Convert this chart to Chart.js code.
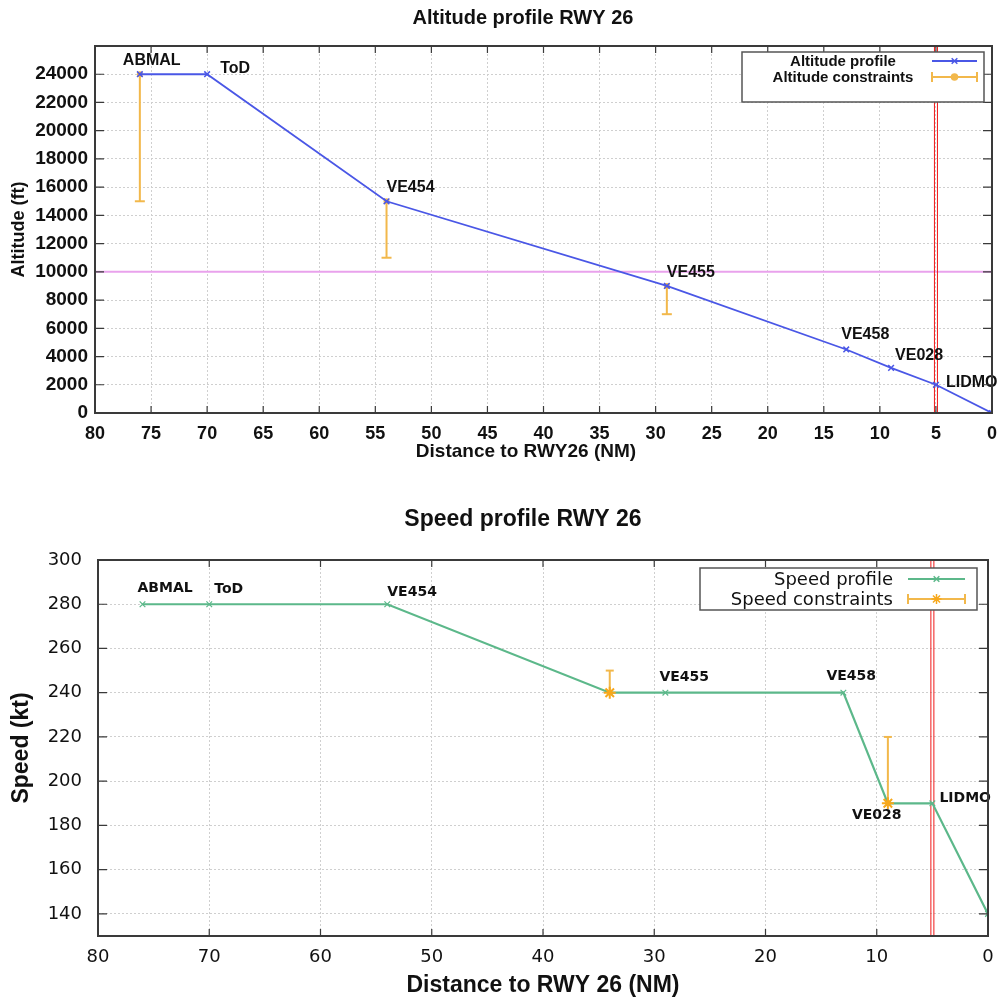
<!DOCTYPE html>
<html>
<head>
<meta charset="utf-8">
<script src="https://cdn.jsdelivr.net/npm/chart.js@4.4.1/dist/chart.umd.min.js"></script>
<style>
    body { margin: 0; background: #fff; }
    #top { position: absolute; left: 0; top: 0; width: 999px; height: 470px; }
    #bottom { position: absolute; left: 0; top: 490px; width: 999px; height: 508px; }
</style>
</head>
<body>
<div id="top"><canvas id="chart_alt"></canvas></div>
<div id="bottom"><canvas id="chart_spd"></canvas></div>
<script>
// altitude profile (distance to runway in NM, altitude in ft)
const altDist = [76, 70, 54, 29, 13, 9, 5, 0];
const altValues = [24000, 24000, 15000, 9000, 4500, 3200, 2000, 0];
const altNames = ['ABMAL', 'ToD', 'VE454', 'VE455', 'VE458', 'VE028', 'LIDMO', ''];
const altConsDist = [76, 54, 29];
const altConsLow = [15000, 11000, 7000];
const altConsHigh = [24000, 15000, 9000];
const transitionAlt = 10000;

// speed profile (kt)
const spdDist = [76, 70, 54, 34, 29, 13, 9, 5, 0];
const spdValues = [280, 280, 280, 240, 240, 240, 190, 190, 140];
const spdNames = ['ABMAL', 'ToD', 'VE454', '', 'VE455', 'VE458', 'VE028', 'LIDMO', ''];
const spdConsDist = [34, 9];
const spdConsLow = [240, 190];
const spdConsHigh = [250, 220];

const runwayMark = 5;

const blue = '#4a57e6';
const green = '#5cb88a';
const orange = '#f2b84b';
const orangeStar = '#f7a81b';

function toPoints(xs, ys) {
    return xs.map((x, i) => ({ x: x, y: ys[i] }));
}

// one vertical bar per constraint, separated by a null so the line breaks
function errorBars(xs, lo, hi) {
    const pts = [];
    for (let i = 0; i < xs.length; i++) {
        pts.push({ x: xs[i], y: lo[i] }, { x: xs[i], y: hi[i] }, { x: xs[i], y: null });
    }
    return pts;
}

const gnuplotFrame = {
    id: 'gnuplotFrame',
    beforeDatasetsDraw(chart, args, opts) {
        const { ctx, chartArea: a, scales: { x, y } } = chart;
        ctx.save();
        if (opts.hLine !== undefined) {
            const py = y.getPixelForValue(opts.hLine);
            ctx.strokeStyle = '#e9a2ec';
            ctx.lineWidth = 2;
            ctx.beginPath();
            ctx.moveTo(a.left, py);
            ctx.lineTo(a.right, py);
            ctx.stroke();
        }
        if (opts.vLine !== undefined) {
            const px = x.getPixelForValue(opts.vLine);
            ctx.strokeStyle = '#f01818';
            ctx.lineWidth = 1;
            for (const d of [-1.5, 1.5]) {
                ctx.beginPath();
                ctx.moveTo(px + d, a.bottom);
                ctx.lineTo(px + d, a.top);
                ctx.stroke();
            }
        }
        ctx.restore();
    },
    afterDatasetsDraw(chart, args, opts) {
        const { ctx, chartArea: a, scales: { x, y } } = chart;
        ctx.save();

        // titles placed like the gnuplot original (not centred on the page)
        ctx.fillStyle = '#111';
        ctx.textAlign = 'center';
        ctx.textBaseline = 'middle';
        for (const t of opts.texts) {
            ctx.font = t.font;
            ctx.fillText(t.text, t.x, t.y);
        }

        // waypoint names
        const meta = chart.getDatasetMeta(opts.labelDataset);
        ctx.font = opts.labelFont;
        ctx.textAlign = 'left';
        opts.labels.forEach((txt, i) => {
            if (!txt) return;
            const pt = meta.data[i];
            const off = opts.labelOffsets[i];
            ctx.fillText(txt, pt.x + off[0], pt.y + off[1]);
        });

        // frame with inward ticks on all sides
        ctx.strokeStyle = '#3a3a3a';
        ctx.lineWidth = 2;
        ctx.strokeRect(a.left, a.top, a.right - a.left, a.bottom - a.top);
        ctx.lineWidth = 1.2;
        ctx.beginPath();
        for (const t of x.ticks) {
            const px = x.getPixelForValue(t.value);
            ctx.moveTo(px, a.bottom); ctx.lineTo(px, a.bottom - 7);
            ctx.moveTo(px, a.top); ctx.lineTo(px, a.top + 7);
        }
        for (const t of y.ticks) {
            const py = y.getPixelForValue(t.value);
            ctx.moveTo(a.left, py); ctx.lineTo(a.left + 9, py);
            ctx.moveTo(a.right, py); ctx.lineTo(a.right - 9, py);
        }
        ctx.stroke();

        // legend box
        const lg = opts.legend;
        const bx = a.right - lg.inset[0] - lg.width;
        const by = a.top + lg.inset[1];
        ctx.fillStyle = '#fff';
        ctx.fillRect(bx, by, lg.width, lg.height);
        ctx.strokeStyle = '#555';
        ctx.lineWidth = 1.5;
        ctx.strokeRect(bx, by, lg.width, lg.height);
        ctx.font = lg.font;
        ctx.textBaseline = 'middle';
        lg.rows.forEach((row, i) => {
            const ry = by + lg.rowY[i];
            ctx.fillStyle = '#111';
            ctx.textAlign = lg.textAlign;
            ctx.fillText(row.text, bx + lg.textX, ry + 1);
            const x0 = bx + lg.sample[0], x1 = bx + lg.sample[1];
            ctx.strokeStyle = row.color;
            ctx.lineWidth = 2;
            ctx.beginPath();
            ctx.moveTo(x0, ry); ctx.lineTo(x1, ry);
            if (row.bars) {
                ctx.moveTo(x0, ry - 5); ctx.lineTo(x0, ry + 5);
                ctx.moveTo(x1, ry - 5); ctx.lineTo(x1, ry + 5);
            }
            ctx.stroke();
            ctx.strokeStyle = row.markerColor || row.color;
            ctx.fillStyle = row.markerColor || row.color;
            ctx.lineWidth = 1.5;
            Chart.helpers.drawPoint(ctx, { pointStyle: row.marker, radius: row.radius, borderWidth: 1.5, rotation: 0 }, (x0 + x1) / 2, ry);
        });
        ctx.restore();
    }
};

function dropTick(value) {
    return scale => { scale.ticks = scale.ticks.filter(t => t.value !== value); };
}

// keep the plot box edges where they are, no extra room for the end labels
function fixHeight(h) {
    return s => { s.height = h; s.paddingLeft = 0; s.paddingRight = 0; };
}

const plainNumber = v => String(v);

new Chart(document.getElementById('chart_alt'), {
    type: 'line',
    data: {
        datasets: [
            {
                label: 'Altitude constraints',
                data: errorBars(altConsDist, altConsLow, altConsHigh),
                borderColor: orange,
                backgroundColor: orange,
                borderWidth: 2,
                spanGaps: false,
                pointStyle: c => (c.dataIndex % 3 === 0 ? 'line' : 'circle'),
                pointRadius: c => (c.dataIndex % 3 === 0 ? 5 : 2),
                pointBorderWidth: 2,
                order: 2
            },
            {
                label: 'Altitude profile',
                data: toPoints(altDist, altValues),
                borderColor: blue,
                backgroundColor: blue,
                borderWidth: 1.8,
                pointStyle: 'crossRot',
                pointRadius: 4,
                pointBorderWidth: 1.5,
                order: 1
            }
        ]
    },
    plugins: [gnuplotFrame],
    options: {
        responsive: true,
        maintainAspectRatio: false,
        animation: false,
        layout: { padding: { left: 0, right: 6, top: 46, bottom: 0 } },
        scales: {
            x: {
                type: 'linear',
                reverse: true,
                min: 0,
                max: 80,
                afterFit: fixHeight(57),
                ticks: { stepSize: 5, padding: 10, color: '#111', font: { family: 'Liberation Sans', size: 18, weight: 'bold' } },
                grid: { color: '#cfcfcf', lineWidth: 1, drawTicks: false },
                border: { display: false, dash: [2, 2] }
            },
            y: {
                min: 0,
                max: 26000,
                afterBuildTicks: dropTick(26000),
                afterFit: s => { s.width = 95; },
                ticks: { stepSize: 2000, padding: 7, color: '#111', callback: plainNumber, font: { family: 'Liberation Sans', size: 19, weight: 'bold' } },
                grid: { color: '#cfcfcf', lineWidth: 1, drawTicks: false },
                border: { display: false, dash: [2, 2] },
                title: { display: true, text: 'Altitude (ft)', color: '#111', padding: { top: 8, bottom: 0 }, font: { family: 'Liberation Sans', size: 18, weight: 'bold' } }
            }
        },
        plugins: {
            legend: { display: false },
            tooltip: { enabled: false },
            title: { display: false },
            gnuplotFrame: {
                texts: [
                    { text: 'Altitude profile RWY 26', font: 'bold 20px "Liberation Sans"', x: 523, y: 18 },
                    { text: 'Distance to RWY26 (NM)', font: 'bold 19px "Liberation Sans"', x: 526, y: 452 }
                ],
                hLine: transitionAlt,
                vLine: runwayMark,
                labelDataset: 1,
                labels: altNames,
                labelFont: 'bold 16px "Liberation Sans"',
                labelOffsets: [[-17, -14], [13, -6], [0, -14], [0, -13], [-5, -15], [4, -12], [10, -2], [0, 0]],
                legend: {
                    inset: [8, 6], width: 242, height: 50,
                    font: 'bold 15px "Liberation Sans"',
                    textAlign: 'center', textX: 101,
                    sample: [190, 235], rowY: [9, 25],
                    rows: [
                        { text: 'Altitude profile', color: blue, marker: 'crossRot', radius: 4 },
                        { text: 'Altitude constraints', color: orange, marker: 'circle', radius: 3, bars: true }
                    ]
                }
            }
        }
    }
});

new Chart(document.getElementById('chart_spd'), {
    type: 'line',
    data: {
        datasets: [
            {
                label: 'Speed constraints',
                data: errorBars(spdConsDist, spdConsLow, spdConsHigh),
                borderColor: orange,
                backgroundColor: orangeStar,
                borderWidth: 2,
                spanGaps: false,
                pointStyle: c => (c.dataIndex % 3 === 0 ? 'star' : 'line'),
                pointRadius: c => (c.dataIndex % 3 === 0 ? 6 : 4),
                pointBorderColor: c => (c.dataIndex % 3 === 0 ? orangeStar : orange),
                pointBorderWidth: 2,
                order: 1
            },
            {
                label: 'Speed profile',
                data: toPoints(spdDist, spdValues),
                borderColor: green,
                backgroundColor: green,
                borderWidth: 2.2,
                pointStyle: 'crossRot',
                pointRadius: 4,
                pointBorderWidth: 1.2,
                order: 2
            }
        ]
    },
    plugins: [gnuplotFrame],
    options: {
        responsive: true,
        maintainAspectRatio: false,
        animation: false,
        layout: { padding: { left: 0, right: 11, top: 70, bottom: 0 } },
        scales: {
            x: {
                type: 'linear',
                reverse: true,
                min: 0,
                max: 80,
                afterFit: fixHeight(62),
                ticks: { stepSize: 10, padding: 11, color: '#111', font: { family: 'DejaVu Sans', size: 18 } },
                grid: { color: '#cfcfcf', lineWidth: 1, drawTicks: false },
                border: { display: false, dash: [2, 2] },
                title: { display: true, text: 'Distance to RWY 26 (NM)', color: '#111', padding: { top: 0, bottom: 1 }, font: { family: 'Liberation Sans', size: 23, weight: 'bold', lineHeight: 1 } }
            },
            y: {
                min: 130,
                max: 300,
                afterBuildTicks: dropTick(130),
                afterFit: s => { s.width = 98; },
                ticks: { stepSize: 20, padding: 16, color: '#111', font: { family: 'DejaVu Sans', size: 18 } },
                grid: { color: '#cfcfcf', lineWidth: 1, drawTicks: false },
                border: { display: false, dash: [2, 2] },
                title: { display: true, text: 'Speed (kt)', color: '#111', padding: { top: 10, bottom: 0 }, font: { family: 'Liberation Sans', size: 23, weight: 'bold', lineHeight: 1 } }
            }
        },
        plugins: {
            legend: { display: false },
            tooltip: { enabled: false },
            title: { display: false },
            gnuplotFrame: {
                texts: [
                    { text: 'Speed profile RWY 26', font: 'bold 23px "Liberation Sans"', x: 523, y: 30 }
                ],
                vLine: runwayMark,
                labelDataset: 1,
                labels: spdNames,
                labelFont: 'bold 14px "DejaVu Sans"',
                labelOffsets: [[-5, -16], [5, -15], [0, -12], [0, 0], [-6, -15], [-17, -16], [-36, 12], [7, -5], [0, 0]],
                legend: {
                    inset: [11, 8], width: 277, height: 42,
                    font: '18px "DejaVu Sans"',
                    textAlign: 'right', textX: 193,
                    sample: [208, 265], rowY: [11, 31],
                    rows: [
                        { text: 'Speed profile', color: green, marker: 'crossRot', radius: 4 },
                        { text: 'Speed constraints', color: orange, markerColor: orangeStar, marker: 'star', radius: 5, bars: true }
                    ]
                }
            }
        }
    }
});
</script>
</body>
</html>
